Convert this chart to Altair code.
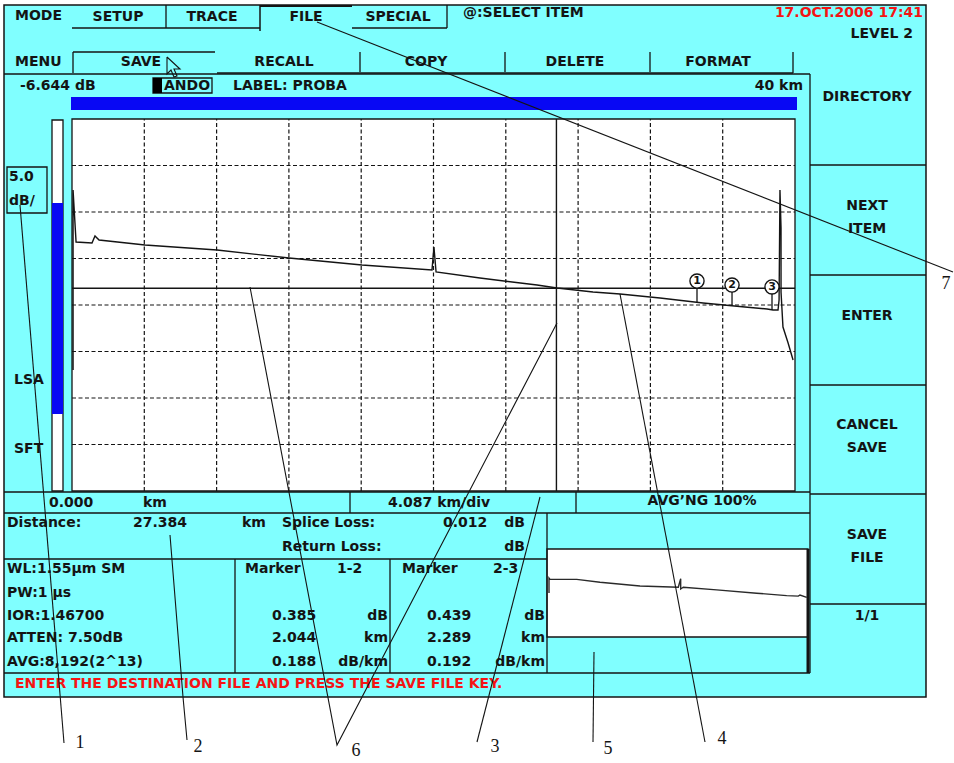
import altair as alt
import pandas as pd

# ---------------- data ----------------
trace_km = [0.06, 0.06, 0.23, 1.13, 1.30, 1.53, 4.13, 8.20, 12.27, 16.39, 20.35,
            20.46, 20.58, 23.06, 26.29, 27.42, 29.45, 30.98, 33.24, 35.67, 38.04,
            39.29, 39.63, 39.91, 39.97, 40.02, 40.08, 40.08, 40.19, 40.48, 40.76]
trace_db = [13.0, 32.37, 26.77, 26.67, 27.42, 26.99, 26.45, 25.91, 25.05, 24.30, 23.76,
            26.24, 23.55, 22.90, 22.15, 21.83, 21.40, 21.18, 20.75, 20.21, 19.78,
            19.57, 19.46, 19.46, 20.54, 32.37, 28.28, 21.40, 17.63, 15.91, 14.09]
thumb_km = [0.0, 0.0, 0.16, 4.39, 8.08, 14.41, 20.48, 20.86, 20.86, 21.27, 26.56,
            32.90, 37.65, 39.49, 39.76, 40.82]
thumb_db = [20.0, 26.8, 26.2, 26.2, 24.9, 23.2, 22.6, 26.5, 21.8, 22.6, 21.4,
            19.9, 18.8, 18.6, 19.1, 18.0]
grid_km = [4.087, 8.174, 12.261, 16.348, 20.435, 24.522, 28.609, 32.696, 36.783]
grid_db = [5, 10, 15, 20, 25, 30, 35]
span_km = 40.87
span_db = 40
cursor_km = 27.384
cursor_db = 21.8
marker_ids = ["1", "2", "3"]
marker_km = [35.33, 37.31, 39.57]
marker_circle_db = [22.58, 22.15, 21.94]
marker_top_db = [21.83, 21.40, 21.18]
marker_base_db = [20.32, 19.89, 19.46]

mode_label = "MODE"
mode_tabs = ["SETUP", "TRACE", "FILE", "SPECIAL"]
menu_label = "MENU"
menu_tabs = ["SAVE", "RECALL", "COPY", "DELETE", "FORMAT"]
prompt = "@:SELECT ITEM"
timestamp = "17.OCT.2006 17:41"
level = "LEVEL 2"
soft_keys = [["DIRECTORY"], ["NEXT", "ITEM"], ["ENTER"], ["CANCEL", "SAVE"], ["SAVE", "FILE"]]
page = "1/1"
header_level = "-6.644 dB"
header_id = "ANDO"
header_label = "LABEL: PROBA"
header_range = "40 km"
scale_div = ["5.0", "dB/"]
side_labels = ["LSA", "SFT"]
axis_start = ["0.000", "km"]
axis_div = "4.087 km/div"
averaging = "AVG\u2019NG 100%"
distance = "27.384"
splice_loss = "0.012"
info_lines = ["WL:1.55\u03bcm SM", "PW:1 \u03bcs", "IOR:1.46700", "ATTEN: 7.50dB", "AVG:8,192(2^13)"]
marker_pairs = ["1-2", "2-3"]
m12_values = ["0.385", "2.044", "0.188"]
m23_values = ["0.439", "2.289", "0.192"]
value_units = ["dB", "km", "dB/km"]
message = "ENTER THE DESTINATION FILE AND PRESS THE SAVE FILE KEY."
callouts = ["1", "2", "3", "4", "5", "6", "7"]

# ---------------- styles ----------------
CYAN = "#80ffff"
BLUE = "#0808f4"
INK = "#141414"
RED = "#f41414"
FONT = "DejaVu Sans"

# ---------------- screen layout (pixel positions) ----------------
rects = pd.DataFrame([
    # x, y, x2, y2, fill, stroke, sw
    (4, 5, 926, 697, CYAN, INK, 1.5),
    (72, 119, 795, 491, "#ffffff", INK, 1.3),
    (52, 120, 63, 491, "#ffffff", INK, 1.3),
    (52, 203, 63, 414, BLUE, "transparent", 0),
    (7, 167, 47, 213, CYAN, INK, 1.3),
    (71, 97, 797, 110, BLUE, "transparent", 0),
    (153, 78, 212, 93, CYAN, INK, 1.3),
    (153, 78, 162, 93, "#000000", "transparent", 0),
    (547, 549, 808, 637, "#ffffff", INK, 1.3),
], columns=["x", "y", "x2", "y2", "fill", "stroke", "sw"])

rules = pd.DataFrame([
    (72, 28, 166, 28, 1.3), (166, 5, 166, 28, 1.3), (166, 28, 260, 28, 1.3),
    (260, 5, 260, 31, 1.5), (260, 6, 352, 6, 2.2), (352, 28, 447, 28, 1.3), (447, 5, 447, 28, 1.3),
    (73, 52, 73, 73, 1.3), (73, 52, 215, 52, 1.3), (217, 73, 793, 73, 1.3),
    (360, 52, 360, 72, 1.3), (505, 52, 505, 72, 1.3), (650, 52, 650, 72, 1.3), (793, 52, 793, 73, 1.3),
    (4, 74, 810, 74, 1.3), (810, 74, 810, 673, 1.3),
    (810, 165, 926, 165, 1.3), (810, 275, 926, 275, 1.3), (810, 385, 926, 385, 1.3),
    (810, 494, 926, 494, 1.3), (810, 604, 926, 604, 1.3),
    (4, 492, 810, 492, 1.3), (350, 492, 350, 513, 1.3), (576, 492, 576, 513, 1.3),
    (4, 513, 810, 513, 1.3), (4, 559, 547, 559, 1.3), (547, 513, 547, 673, 1.3),
    (235, 559, 235, 673, 1.3), (390, 559, 390, 673, 1.3), (4, 673, 810, 673, 1.3),
    (808, 549, 808, 673, 3.0),
], columns=["x", "y", "x2", "y2", "sw"])

paths = {
    "c1": [(20, 205), (64, 743)],
    "c2": [(170, 535), (183, 697), (187, 740)],
    "c6": [(250, 287), (337, 745), (557, 323)],
    "c3": [(540, 497), (477, 742)],
    "c5": [(594, 652), (593, 742)],
    "c4": [(620, 294), (705, 742)],
    "c7": [(317, 22), (953, 272)],
    "ptr": [(167, 57), (167, 74), (171, 70), (174, 77), (177, 76), (174, 69), (180, 69), (167, 57)],
}
path_rows = []
for pid, pts in paths.items():
    for i, (px, py) in enumerate(pts):
        path_rows.append({"id": pid, "i": i, "x": px, "y": py})
path_df = pd.DataFrame(path_rows)

callout_pos = [(80, 743), (198, 747), (495, 747), (722, 739), (608, 749), (356, 751), (946, 284)]
callout_df = pd.DataFrame({"t": callouts, "x": [p[0] for p in callout_pos], "y": [p[1] for p in callout_pos]})

texts = []


def t(s, x, y, a="left", c=INK):
    texts.append({"t": s, "x": x, "y": y, "a": a, "c": c})


t(mode_label, 15, 16)
for s, cx in zip(mode_tabs, [118, 212, 306, 398]):
    t(s, cx, 17, "center")
t(prompt, 463, 13)
t(timestamp, 923, 13, "right", RED)
t(level, 913, 34, "right")
t(menu_label, 15, 62)
for s, cx in zip(menu_tabs, [141, 284, 426, 575, 718]):
    t(s, cx, 62, "center")
t(header_level, 20, 86)
t(header_id, 164, 86)
t(header_label, 233, 86)
t(header_range, 803, 86, "right")
for key, ys in zip(soft_keys, [[97], [206, 229], [316], [425, 448], [535, 558]]):
    for s, yy in zip(key, ys):
        t(s, 867, yy, "center")
t(page, 867, 616, "center")
t(scale_div[0], 9, 177)
t(scale_div[1], 9, 201)
t(side_labels[0], 14, 380)
t(side_labels[1], 14, 449)
t(axis_start[0], 49, 503)
t(axis_start[1], 143, 503)
t(axis_div, 388, 503)
t(averaging, 702, 501, "center")
t("Distance:", 7, 523)
t(distance, 133, 523)
t("km", 242, 523)
t("Splice Loss:", 282, 523)
t(splice_loss, 443, 523)
t("dB", 525, 523, "right")
t("Return Loss:", 282, 547)
t("dB", 525, 547, "right")
for s, yy in zip(info_lines, [569, 593, 616, 638, 662]):
    t(s, 7, yy)
t("Marker", 245, 569)
t(marker_pairs[0], 337, 569)
t("Marker", 402, 569)
t(marker_pairs[1], 493, 569)
for a, b, u, yy in zip(m12_values, m23_values, value_units, [616, 638, 662]):
    t(a, 272, yy)
    t(u, 388, yy, "right")
    t(b, 427, yy)
    t(u, 545, yy, "right")
t(message, 15, 684, "left", RED)
text_df = pd.DataFrame(texts)

# ---------------- encodings ----------------
def PX(f):
    return alt.X(f"{f}:Q", scale=None, axis=None)


def PY(f):
    return alt.Y(f"{f}:Q", scale=None, axis=None)


XS = alt.Scale(domain=[0, span_km], range=[72, 795], nice=False, zero=False)
YS = alt.Scale(domain=[0, span_db], range=[491, 119], nice=False, zero=False)
TXS = alt.Scale(domain=[0, span_km], range=[549, 807], nice=False, zero=False)
TYS = alt.Scale(domain=[0, span_db], range=[637, 549], nice=False, zero=False)

layers = []

layers.append(
    alt.Chart(rects).mark_rect().encode(
        x=PX("x"), x2="x2:Q", y=PY("y"), y2="y2:Q",
        fill=alt.Fill("fill:N", scale=None),
        stroke=alt.Stroke("stroke:N", scale=None),
        strokeWidth=alt.StrokeWidth("sw:Q", scale=None),
    )
)

gv = pd.DataFrame({"km": grid_km, "d0": 0, "d1": span_db})
layers.append(
    alt.Chart(gv).mark_rule(color=INK, strokeWidth=1.2, strokeDash=[4, 2.5]).encode(
        x=alt.X("km:Q", scale=XS, axis=None), y=alt.Y("d0:Q", scale=YS, axis=None), y2="d1:Q"
    )
)
gh = pd.DataFrame({"db": grid_db, "k0": 0, "k1": span_km})
layers.append(
    alt.Chart(gh).mark_rule(color=INK, strokeWidth=1.2, strokeDash=[4, 2.5]).encode(
        y=alt.Y("db:Q", scale=YS, axis=None), x=alt.X("k0:Q", scale=XS, axis=None), x2="k1:Q"
    )
)
cv = pd.DataFrame({"km": [cursor_km], "d0": 0, "d1": span_db})
layers.append(
    alt.Chart(cv).mark_rule(color=INK, strokeWidth=1.4).encode(
        x=alt.X("km:Q", scale=XS, axis=None), y=alt.Y("d0:Q", scale=YS, axis=None), y2="d1:Q"
    )
)
ch = pd.DataFrame({"db": [cursor_db], "k0": 0, "k1": span_km})
layers.append(
    alt.Chart(ch).mark_rule(color=INK, strokeWidth=1.4).encode(
        y=alt.Y("db:Q", scale=YS, axis=None), x=alt.X("k0:Q", scale=XS, axis=None), x2="k1:Q"
    )
)

tr = pd.DataFrame({"km": trace_km, "db": trace_db, "i": range(len(trace_km))})
layers.append(
    alt.Chart(tr).mark_line(color=INK, strokeWidth=1.4).encode(
        x=alt.X("km:Q", scale=XS, axis=None), y=alt.Y("db:Q", scale=YS, axis=None), order="i:Q"
    )
)

mk = pd.DataFrame({"id": marker_ids, "km": marker_km, "c": marker_circle_db,
                   "top": marker_top_db, "base": marker_base_db})
layers.append(
    alt.Chart(mk).mark_rule(color=INK, strokeWidth=1.3).encode(
        x=alt.X("km:Q", scale=XS, axis=None), y=alt.Y("top:Q", scale=YS, axis=None), y2="base:Q"
    )
)
layers.append(
    alt.Chart(mk).mark_point(shape="circle", filled=True, fill="#ffffff", stroke=INK,
                             strokeWidth=1.4, size=200, opacity=1).encode(
        x=alt.X("km:Q", scale=XS, axis=None), y=alt.Y("c:Q", scale=YS, axis=None)
    )
)
layers.append(
    alt.Chart(mk).mark_text(font=FONT, fontWeight="bold", fontSize=11, color=INK,
                            baseline="middle", align="center").encode(
        x=alt.X("km:Q", scale=XS, axis=None), y=alt.Y("c:Q", scale=YS, axis=None), text="id:N"
    )
)

th = pd.DataFrame({"km": thumb_km, "db": thumb_db, "i": range(len(thumb_km))})
layers.append(
    alt.Chart(th).mark_line(color="#2a2a2a", strokeWidth=1.4).encode(
        x=alt.X("km:Q", scale=TXS, axis=None), y=alt.Y("db:Q", scale=TYS, axis=None), order="i:Q"
    )
)

layers.append(
    alt.Chart(rules).mark_rule(color=INK).encode(
        x=PX("x"), x2="x2:Q", y=PY("y"), y2="y2:Q",
        strokeWidth=alt.StrokeWidth("sw:Q", scale=None),
    )
)

for a in ["left", "center", "right"]:
    sub = text_df[text_df["a"] == a]
    layers.append(
        alt.Chart(sub).mark_text(font=FONT, fontWeight="bold", fontSize=14,
                                 align=a, baseline="middle").encode(
            x=PX("x"), y=PY("y"), text="t:N", color=alt.Color("c:N", scale=None)
        )
    )

layers.append(
    alt.Chart(path_df).mark_line(color=INK, strokeWidth=1.1).encode(
        x=PX("x"), y=PY("y"), detail="id:N", order="i:Q"
    )
)
layers.append(
    alt.Chart(callout_df).mark_text(font="Liberation Serif", fontSize=18, color=INK,
                                    align="center", baseline="middle").encode(
        x=PX("x"), y=PY("y"), text="t:N"
    )
)

chart = alt.layer(*layers).resolve_scale(
    x="independent", y="independent"
).properties(
    width=954, height=763, padding=0,
    autosize=alt.AutoSizeParams(type="none"),
    background="#ffffff",
).configure_view(strokeWidth=0)

chart.save("out.html", embed_options={"renderer": "svg", "actions": False})
